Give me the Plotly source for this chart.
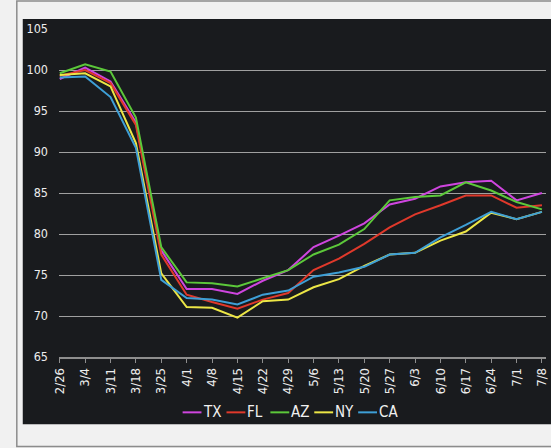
import plotly.graph_objects as go

weeks = ["2/26", "3/4", "3/11", "3/18", "3/25", "4/1", "4/8", "4/15", "4/22", "4/29",
         "5/6", "5/13", "5/20", "5/27", "6/3", "6/10", "6/17", "6/24", "7/1", "7/8"]

tx = [98.9, 100.3, 98.6, 93.6, 78.0, 73.3, 73.3, 72.7, 74.3, 75.6,
      78.4, 79.8, 81.3, 83.6, 84.3, 85.8, 86.3, 86.5, 84.1, 85.0]
fl = [99.3, 100.0, 98.4, 93.3, 77.5, 72.6, 71.7, 70.9, 72.0, 72.8,
      75.6, 77.0, 78.8, 80.8, 82.4, 83.5, 84.7, 84.7, 83.2, 83.5]
az = [99.6, 100.7, 99.8, 94.2, 78.4, 74.1, 74.0, 73.6, 74.6, 75.6,
      77.5, 78.7, 80.6, 84.1, 84.5, 84.7, 86.3, 85.3, 83.9, 83.0]
ny = [99.4, 99.6, 98.0, 91.1, 75.2, 71.1, 71.0, 69.8, 71.8, 72.0,
      73.5, 74.5, 76.1, 77.5, 77.7, 79.2, 80.3, 82.6, 81.8, 82.7]
ca = [99.1, 99.2, 96.7, 90.5, 74.4, 72.2, 72.0, 71.4, 72.6, 73.1,
      74.8, 75.3, 76.0, 77.5, 77.7, 79.6, 81.1, 82.7, 81.8, 82.7]

names = ["TX", "FL", "AZ", "NY", "CA"]
series = [tx, fl, az, ny, ca]
colors = ["#cf45df", "#e0392b", "#5cc83a", "#ece646", "#3e9fd6"]

y_ticks = [65, 70, 75, 80, 85, 90, 95, 100, 105]

FONT = "DejaVu Sans Condensed, DejaVu Sans, sans-serif"
W, H = 551, 448
L, R, T, B = 58.5, 2, 29, 91.3
PW, PH = W - L - R, H - T - B


def px(x):
    return (x - L) / PW


def py(y):
    return (H - B - y) / PH


fig = go.Figure()
for name, vals, col in zip(names, series, colors):
    fig.add_trace(go.Scatter(x=weeks, y=vals, mode="lines", name=name,
                             line=dict(color=col, width=2), showlegend=False))

shapes = [
    dict(type="rect", xref="paper", yref="paper", x0=px(16), x1=px(600), y0=py(446), y1=py(1),
         line=dict(color="#8c8c8c", width=1.5), fillcolor="#f1f1f1", layer="below"),
    dict(type="rect", xref="paper", yref="paper", x0=px(22), x1=px(600), y0=py(424), y1=py(19),
         line=dict(width=0), fillcolor="#191b1e", layer="below"),
]
annotations = []
# legend row
for i, (name, col) in enumerate(zip(names, colors)):
    x0 = 183 + i * 44.2
    shapes.append(dict(type="line", xref="paper", yref="paper", x0=px(x0), x1=px(x0 + 19),
                       y0=py(412), y1=py(412), line=dict(color=col, width=2)))
    annotations.append(dict(xref="paper", yref="paper", x=px(x0 + 19), y=py(411.5),
                            xanchor="left", yanchor="middle", showarrow=False, text=name,
                            font=dict(family=FONT, size=15, color="#f0f0f0")))

fig.update_layout(
    width=W, height=H,
    margin=dict(l=L, r=R, t=T, b=B, pad=0),
    paper_bgcolor="#f1f1f1",
    plot_bgcolor="#191b1e",
    shapes=shapes,
    annotations=annotations,
    font=dict(family=FONT, size=12.5, color="#ededed"),
    xaxis=dict(type="category", range=[-0.03, 19.16], tickangle=-90,
               tickmode="array", tickvals=weeks, ticktext=weeks,
               showgrid=False, zeroline=False, showline=True, linecolor="#8e8e8e", linewidth=1.5,
               ticks="outside", ticklen=4, tickcolor="#8e8e8e", tickwidth=1,
               tickfont=dict(family=FONT, size=13, color="#ededed")),
    yaxis=dict(range=[65, 105], tickmode="array", tickvals=y_ticks,
               showgrid=True, gridcolor="#a0a0a0", gridwidth=1.3, zeroline=False,
               showline=False, ticks="", ticklabelstandoff=10,
               tickfont=dict(family=FONT, size=12.5, color="#ededed")),
)

fig.write_html("out.html", config={"displayModeBar": False},
               post_script="document.body.style.margin='0';document.body.style.background='#f1f1f1';")
